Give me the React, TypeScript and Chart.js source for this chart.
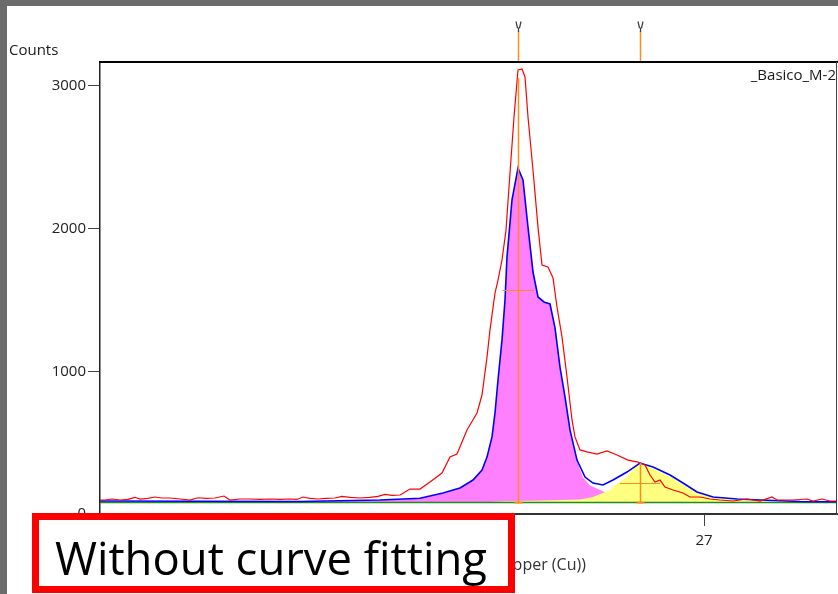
import { useEffect, useRef } from 'react';
import { Chart, registerables } from 'chart.js';

Chart.register(...registerables);

// ---------- axis ranges & ticks ----------
const X_MIN = 23.98;
const X_MAX = 27.665;
const Y_MIN = 0;
const Y_MAX = 3168;
const xTickValues = [24, 25, 26, 27];
const yTickValues = [0, 1000, 2000, 3000];

// ---------- observed profile (red) ----------
const obsX = [23.98, 24.005, 24.04, 24.08, 24.12, 24.155, 24.18, 24.22, 24.255, 24.29, 24.33, 24.38, 24.43, 24.47, 24.51, 24.555, 24.6, 24.63, 24.68, 24.73, 24.78, 24.83, 24.88, 24.93, 24.965, 24.995, 25.03, 25.07, 25.11, 25.155, 25.19, 25.23, 25.28, 25.33, 25.37, 25.405, 25.44, 25.48, 25.53, 25.58, 25.63, 25.69, 25.73, 25.765, 25.815, 25.865, 25.89, 25.915, 25.93, 25.955, 25.97, 25.99, 26.01, 26.03, 26.05, 26.07, 26.09, 26.105, 26.12, 26.145, 26.17, 26.19, 26.22, 26.245, 26.265, 26.29, 26.315, 26.34, 26.355, 26.38, 26.415, 26.465, 26.515, 26.565, 26.62, 26.67, 26.705, 26.73, 26.755, 26.78, 26.805, 26.845, 26.895, 26.93, 26.98, 27.03, 27.08, 27.145, 27.215, 27.28, 27.34, 27.365, 27.445, 27.515, 27.545, 27.59, 27.63, 27.665];
const obsY = [98, 98, 105, 98, 102, 117, 105, 109, 119, 112, 112, 105, 98, 114, 109, 112, 126, 98, 105, 105, 102, 105, 102, 105, 102, 119, 109, 105, 109, 112, 123, 116, 112, 116, 123, 137, 130, 133, 175, 175, 224, 287, 399, 420, 589, 708, 834, 1100, 1290, 1549, 1640, 1780, 1990, 2390, 2782, 3112, 3119, 3063, 2782, 2411, 2011, 1745, 1731, 1654, 1451, 1241, 960, 659, 540, 449, 435, 420, 442, 414, 378, 364, 343, 273, 224, 238, 189, 168, 147, 119, 119, 105, 98, 91, 105, 91, 119, 98, 98, 105, 91, 105, 91, 91];

// ---------- calculated profile (blue) ----------
const calcX = [23.98, 24.48, 24.98, 25.38, 25.58, 25.695, 25.78, 25.845, 25.89, 25.915, 25.94, 25.955, 25.97, 25.99, 26.005, 26.015, 26.04, 26.07, 26.095, 26.12, 26.145, 26.17, 26.2, 26.23, 26.255, 26.28, 26.305, 26.33, 26.365, 26.405, 26.445, 26.495, 26.545, 26.615, 26.68, 26.745, 26.83, 26.895, 26.965, 27.045, 27.165, 27.28, 27.48, 27.665];
const calcY = [91, 89, 88, 98, 110, 147, 182, 238, 308, 399, 540, 708, 939, 1220, 1500, 1801, 2201, 2425, 2341, 2011, 1696, 1521, 1486, 1472, 1304, 1030, 820, 589, 378, 259, 217, 203, 238, 294, 357, 329, 273, 217, 154, 119, 105, 98, 88, 86];

// ---------- peak 1 profile (magenta fill) ----------
const peak1X = [23.98, 24.98, 25.38, 25.58, 25.695, 25.78, 25.845, 25.89, 25.915, 25.94, 25.955, 25.97, 25.99, 26.005, 26.015, 26.04, 26.07, 26.095, 26.12, 26.145, 26.17, 26.2, 26.23, 26.255, 26.28, 26.305, 26.33, 26.365, 26.395, 26.43, 26.48, 26.53, 26.58, 26.63, 26.73, 26.98, 27.665];
const peak1Y = [84, 86, 96, 108, 145, 180, 236, 306, 397, 538, 706, 937, 1218, 1498, 1799, 2199, 2423, 2339, 2009, 1694, 1519, 1483, 1468, 1300, 1025, 814, 582, 368, 255, 200, 168, 137, 116, 102, 91, 84, 81];

// ---------- peak 2 profile (yellow fill) ----------
const peak2X = [25.9, 26.0, 26.2, 26.38, 26.445, 26.53, 26.57, 26.615, 26.645, 26.68, 26.715, 26.78, 26.845, 26.915, 26.98, 27.065, 27.145, 27.28, 27.43];
const peak2Y = [82, 90, 95, 102, 119, 168, 217, 259, 322, 352, 340, 294, 252, 189, 147, 112, 102, 88, 81];

// ---------- background (green) ----------
const bgX = [X_MIN, X_MAX];
const bgY = [80, 80];
const BG_LEVEL = 80;

// ---------- peak list markers ----------
const peakPos = [26.07, 26.68];
const peakHeight = [3056, 357];
const peakHalfHeight = [1568, 219];
const peakFwhm = [0.155, 0.2];

// ---------- texts ----------
const yAxisTitle = 'Counts';
const xAxisTitle = 'Position [°2Theta] (Copper (Cu))';
const scanName = '_Basico_M-2';
const noteText = 'Without curve fitting';

const FONT = '"Open Sans", "Noto Sans", sans-serif';
const ORANGE = '#ff8c1a';

const pts = (xs: number[], ys: number[]) => xs.map((x, i) => ({ x, y: ys[i] }));

const overlay = {
  id: 'overlay',
  afterDatasetsDraw(chart: any) {
    const { ctx, scales } = chart;
    const x = scales.x;
    const y = scales.y;
    ctx.save();
    ctx.strokeStyle = ORANGE;
    peakPos.forEach((p, i) => {
      const px = Math.round(x.getPixelForValue(p)) + 0.5;
      const yb = y.getPixelForValue(BG_LEVEL);
      const yt = y.getPixelForValue(peakHeight[i]);
      ctx.lineWidth = 1.5;
      ctx.beginPath();
      ctx.moveTo(px, yb);
      ctx.lineTo(px, yt);
      ctx.stroke();
      const yh = Math.round(y.getPixelForValue(peakHalfHeight[i])) + 0.5;
      ctx.lineWidth = 1;
      ctx.beginPath();
      ctx.moveTo(x.getPixelForValue(p - peakFwhm[i] / 2), yh);
      ctx.lineTo(x.getPixelForValue(p + peakFwhm[i] / 2), yh);
      ctx.stroke();
      ctx.lineWidth = 2;
      ctx.beginPath();
      ctx.moveTo(px - 4, yb);
      ctx.lineTo(px + 4, yb);
      ctx.stroke();
    });
    ctx.restore();
  },
  afterDraw(chart: any) {
    const { ctx, chartArea, scales } = chart;
    const x = scales.x;
    ctx.save();
    // window frame
    ctx.fillStyle = '#6b6b6b';
    ctx.fillRect(0, 0, chart.width, 6);
    ctx.fillRect(0, 0, 7, chart.height);
    // plot frame (top & right)
    ctx.fillStyle = '#000';
    ctx.fillRect(chartArea.left - 1, chartArea.top - 1, chartArea.right - chartArea.left + 2, 2);
    ctx.fillStyle = '#444';
    ctx.fillRect(chartArea.right - 1, chartArea.top, 1, chartArea.bottom - chartArea.top + 1);
    // texts
    ctx.fillStyle = '#1a1a1a';
    ctx.font = `15px ${FONT}`;
    ctx.textAlign = 'left';
    ctx.textBaseline = 'alphabetic';
    ctx.fillText(yAxisTitle, 9, 55);
    ctx.textAlign = 'right';
    ctx.fillText(scanName, chartArea.right - 1, 80);
    // peak markers above the plot
    peakPos.forEach((p) => {
      const px = Math.round(x.getPixelForValue(p)) + 0.5;
      ctx.strokeStyle = ORANGE;
      ctx.lineWidth = 1.5;
      ctx.beginPath();
      ctx.moveTo(px, 31);
      ctx.lineTo(px, chartArea.top - 1);
      ctx.stroke();
      ctx.strokeStyle = '#3a3a3a';
      ctx.lineWidth = 1.2;
      ctx.beginPath();
      ctx.moveTo(px - 2.5, 21.5);
      ctx.lineTo(px - 1, 28);
      ctx.moveTo(px + 2.5, 21.5);
      ctx.lineTo(px + 1, 28);
      ctx.moveTo(px - 1, 28);
      ctx.lineTo(px + 1, 28);
      ctx.moveTo(px, 28);
      ctx.lineTo(px, 32);
      ctx.stroke();
    });
    // red annotation box
    ctx.fillStyle = '#fff';
    ctx.fillRect(32, 513, 483, 81);
    ctx.strokeStyle = '#ff0000';
    ctx.lineWidth = 7;
    ctx.strokeRect(35.5, 516.5, 476, 73);
    ctx.fillStyle = '#000';
    ctx.textAlign = 'left';
    let size = 48;
    ctx.font = `${size}px ${FONT}`;
    const w = ctx.measureText(noteText).width;
    size = (size * 432) / w;
    ctx.font = `${size}px ${FONT}`;
    ctx.fillText(noteText, 55, 575);
    ctx.restore();
  },
};

export default function App() {
  const ref = useRef<HTMLCanvasElement | null>(null);

  useEffect(() => {
    document.body.style.margin = '0';
    const canvas = ref.current;
    if (!canvas) return;
    const chart = new Chart(canvas, {
      type: 'line',
      data: {
        datasets: [
          {
            label: 'Observed',
            data: pts(obsX, obsY),
            borderColor: '#ff0000',
            borderWidth: 1.2,
            pointRadius: 0,
            fill: false,
            order: 1,
          },
          {
            label: 'Calculated',
            data: pts(calcX, calcY),
            borderColor: '#0000ff',
            borderWidth: 1.6,
            pointRadius: 0,
            fill: false,
            order: 2,
          },
          {
            label: 'Background',
            data: pts(bgX, bgY),
            borderColor: '#1e8c1e',
            borderWidth: 1.5,
            pointRadius: 0,
            fill: false,
            order: 3,
          },
          {
            label: 'Peak 2',
            data: pts(peak2X, peak2Y),
            borderColor: 'rgba(0,0,0,0)',
            borderWidth: 0,
            backgroundColor: '#ffff80',
            pointRadius: 0,
            fill: { value: BG_LEVEL },
            order: 4,
          },
          {
            label: 'Peak 1',
            data: pts(peak1X, peak1Y),
            borderColor: 'rgba(0,0,0,0)',
            borderWidth: 0,
            backgroundColor: '#ff80ff',
            pointRadius: 0,
            fill: { value: BG_LEVEL },
            order: 5,
          },
        ],
      },
      options: {
        responsive: false,
        devicePixelRatio: 1,
        animation: false,
        layout: { padding: { left: 0, right: 1, top: 62, bottom: 0 } },
        plugins: {
          legend: { display: false },
          tooltip: { enabled: false },
        },
        elements: { line: { tension: 0 }, point: { radius: 0 } },
        scales: {
          x: {
            type: 'linear',
            min: X_MIN,
            max: X_MAX,
            afterBuildTicks: (s: any) => {
              s.ticks = xTickValues.map((v) => ({ value: v }));
            },
            afterFit: (s: any) => {
              s.height = 80;
            },
            grid: { drawOnChartArea: false, drawTicks: true, tickLength: 12, color: '#444' },
            border: { display: true, color: '#333', width: 2 },
            ticks: {
              autoSkip: false,
              maxRotation: 0,
              padding: 6,
              color: '#222',
              font: { family: FONT, size: 15 },
              callback: (v: any) => String(v),
            },
            title: {
              display: true,
              text: xAxisTitle,
              color: '#333',
              font: { family: FONT, size: 16 },
              padding: { top: 0, bottom: 19 },
            },
          },
          y: {
            type: 'linear',
            min: Y_MIN,
            max: Y_MAX,
            afterBuildTicks: (s: any) => {
              s.ticks = yTickValues.map((v) => ({ value: v }));
            },
            afterFit: (s: any) => {
              s.width = 100;
            },
            grid: { drawOnChartArea: false, drawTicks: true, tickLength: 12, color: '#444' },
            border: { display: true, color: '#222', width: 1.5 },
            ticks: {
              padding: 2,
              color: '#222',
              font: { family: FONT, size: 15 },
              callback: (v: any) => String(v),
            },
          },
        },
      },
      plugins: [overlay],
    } as any);
    return () => chart.destroy();
  }, []);

  return (
    <div style={{ position: 'relative', width: 838, height: 594, background: '#fff' }}>
      <canvas ref={ref} width={838} height={594} style={{ display: 'block' }} />
    </div>
  );
}
